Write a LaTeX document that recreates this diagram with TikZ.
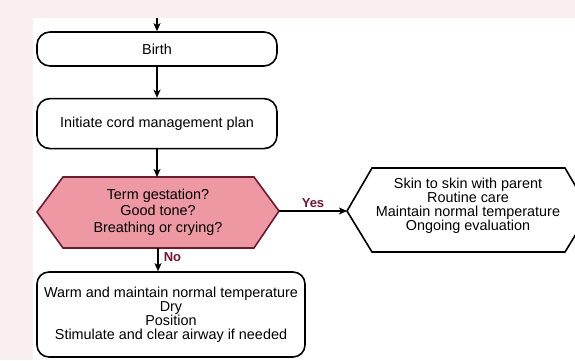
\documentclass[tikz,border=0pt]{standalone}
\usepackage{fontspec}
\setmainfont{Liberation Sans}
\usetikzlibrary{positioning,calc,arrows.meta}
\definecolor{pinkbg}{RGB}{250,239,239}
\definecolor{hexfill}{RGB}{238,152,163}
\definecolor{hexline}{RGB}{105,28,48}
\definecolor{labred}{RGB}{115,22,52}

\begin{document}
\begin{tikzpicture}[x=1pt,y=-1pt,node distance=31pt,
  box/.style={draw,line width=1.6pt,rounded corners=13pt,align=center,inner sep=2pt,font=\fontsize{14.4}{15}\selectfont},
  txt/.style={align=center,inner sep=0pt,font=\fontsize{14.4}{14}\selectfont},
  hexa/.style={line width=1.6pt,line join=miter},
  arr/.style={-{Stealth[length=8pt,width=7pt,inset=2pt]},line width=1.6pt},
  lab/.style={font=\bfseries\fontsize{13}{13}\selectfont,text=labred,inner sep=2pt}]
\useasboundingbox (0,0) rectangle (575,360);
\fill[pinkbg] (0,0) rectangle (575,360);
\fill[white] (33,18) rectangle (575,360);
\coordinate (start) at (157,18);
\node[box,minimum width=240pt,minimum height=34pt] (birth) at (157,49) {Birth};
\node[box,minimum width=240pt,minimum height=50pt,below=of birth] (init) {Initiate cord management plan};
\coordinate (dW) at (37,212);
\coordinate (dNW) at (63,177);
\coordinate (dNE) at (254,177);
\coordinate (dE) at (279,211);
\coordinate (dSE) at (254,248);
\coordinate (dSW) at (63,248);
\coordinate (dS) at (158,248);
\filldraw[hexa,fill=hexfill,draw=hexline] (dW)--(dNW)--(dNE)--(dE)--(dSE)--(dSW)--cycle;
\node[txt,font=\fontsize{14.4}{16.5}\selectfont] (dec) at (158,212) {Term gestation?\\Good tone?\\Breathing or crying?};
\coordinate (sW) at (347,211);
\coordinate (sNW) at (372,168);
\coordinate (sNE) at (565,168);
\coordinate (sE) at (590,211);
\coordinate (sSE) at (565,252);
\coordinate (sSW) at (372,252);
\draw[hexa] (sW)--(sNW)--(sNE)--(sE)--(sSE)--(sSW)--cycle;
\node[txt] (skin) at (468,206) {Skin to skin with parent\\Routine care\\Maintain normal temperature\\Ongoing evaluation};
\node[box,minimum width=268pt,minimum height=85pt,rounded corners=12pt,font=\fontsize{14.4}{14}\selectfont] (warm) at (171,314.5) {Warm and maintain normal temperature\\Dry\\Position\\Stimulate and clear airway if needed};
\draw[arr] (start) -- (birth);
\draw[arr] (birth) -- (init);
\draw[arr] (init) -- (init.south |- dNW);
\draw[arr] (dE) -- (sW) node[midway,above=1pt,lab] {Yes};
\draw[arr] (dS) -- (dS |- warm.north) node[pos=0.4,right=0pt,xshift=3pt,lab] {No};
\end{tikzpicture}
\end{document}
